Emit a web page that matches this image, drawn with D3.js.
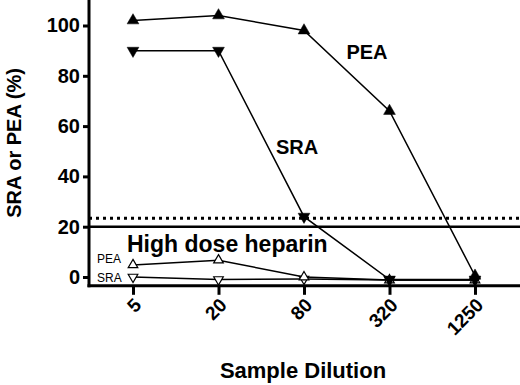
<!DOCTYPE html>
<html><head><meta charset="utf-8">
<script src="https://cdn.jsdelivr.net/npm/d3@7"></script>
<style>body{margin:0;background:#fff}svg{display:block}</style>
</head><body>
<script>
const dilutions = ["5", "20", "80", "320", "1250"];
const peaValues = [102, 104, 98, 66, 0.5];
const sraValues = [90, 90, 24, -1, -1];
const heparinPEA = [4.8, 6.7, 0, -1.2, -1.2];
const heparinSRA = [0, -1, -0.8, -1.2, -1.2];
const yTicks = [0, 20, 40, 60, 80, 100];
const cutoffSRA = 20;
const cutoffPEA = 23.4;

const W = 520, H = 385;
const svg = d3.select("body").append("svg").attr("width", W).attr("height", H);
const x = d3.scalePoint().domain(dilutions).range([133, 475]);
const y = d3.scaleLinear().domain([0, 100]).range([277, 25.5]);
const x0 = 89, yAxisBottom = y(-3.5);
const font = "'Liberation Sans', Arial, sans-serif";

// reference lines
svg.append("line").attr("x1", x0).attr("x2", W).attr("y1", y(cutoffPEA)).attr("y2", y(cutoffPEA))
  .attr("stroke", "#000").attr("stroke-width", 3).attr("stroke-dasharray", "3,4");
svg.append("line").attr("x1", x0).attr("x2", W).attr("y1", y(cutoffSRA)).attr("y2", y(cutoffSRA))
  .attr("stroke", "#000").attr("stroke-width", 2.5);

// axes
const yAxis = d3.axisLeft(y).tickValues(yTicks).tickSize(6).tickPadding(3);
const gy = svg.append("g").attr("transform", `translate(${x0},0)`).call(yAxis);
gy.select(".domain").remove();
gy.selectAll(".tick line").attr("stroke-width", 3);
gy.selectAll(".tick text").attr("font-family", font).attr("font-weight", "bold").attr("font-size", 20).attr("fill", "#000");
svg.append("line").attr("x1", x0).attr("x2", x0).attr("y1", 0).attr("y2", yAxisBottom + 1.5)
  .attr("stroke", "#000").attr("stroke-width", 3);
svg.append("line").attr("x1", x0 - 1.5).attr("x2", W).attr("y1", yAxisBottom).attr("y2", yAxisBottom)
  .attr("stroke", "#000").attr("stroke-width", 3);

const xAxis = d3.axisBottom(x).tickSize(9).tickFormat("");
const gx = svg.append("g").attr("transform", `translate(0,${yAxisBottom})`).call(xAxis);
gx.select(".domain").remove();
gx.selectAll(".tick line").attr("stroke-width", 3);
svg.selectAll(".xlab").data(dilutions).enter().append("text")
  .attr("transform", d => `translate(${x(d) + 6},${yAxisBottom + 17}) rotate(-45)`)
  .attr("text-anchor", "end").attr("dominant-baseline", "middle")
  .attr("font-family", font).attr("font-weight", "bold").attr("font-size", 19)
  .text(d => d);

// axis titles
svg.append("text").attr("transform", `translate(21,143) rotate(-90)`)
  .attr("text-anchor", "middle").attr("font-family", font).attr("font-weight", "bold").attr("font-size", 20)
  .text("SRA or PEA (%)");
svg.append("text").attr("x", 303).attr("y", 378)
  .attr("text-anchor", "middle").attr("font-family", font).attr("font-weight", "bold").attr("font-size", 22)
  .text("Sample Dilution");

// series
const line = d3.line().x((d, i) => x(dilutions[i])).y(d => y(d));
function series(vals, up, filled, sz) {
  svg.append("path").datum(vals).attr("d", line).attr("fill", "none").attr("stroke", "#000").attr("stroke-width", 1.5);
  svg.selectAll(null).data(vals).enter().append("path")
    .attr("d", d3.symbol(d3.symbolTriangle, sz)())
    .attr("transform", (d, i) => `translate(${x(dilutions[i])},${y(d)}) rotate(${up ? 0 : 180})`)
    .attr("fill", filled ? "#000" : "#fff").attr("stroke", "#000").attr("stroke-width", filled ? 0.5 : 1.2);
}
series(heparinSRA, false, false, 40);
series(heparinPEA, true, false, 40);
series(sraValues, false, true, 60);
series(peaValues, true, true, 60);

// labels
svg.append("text").attr("x", 367).attr("y", 59).attr("text-anchor", "middle")
  .attr("font-family", font).attr("font-weight", "bold").attr("font-size", 20).text("PEA");
svg.append("text").attr("x", 297).attr("y", 154).attr("text-anchor", "middle")
  .attr("font-family", font).attr("font-weight", "bold").attr("font-size", 20).text("SRA");
svg.append("text").attr("x", 127).attr("y", 252)
  .attr("font-family", font).attr("font-weight", "bold").attr("font-size", 23).text("High dose heparin");
svg.append("text").attr("x", 97).attr("y", 263)
  .attr("font-family", font).attr("font-size", 12).text("PEA");
svg.append("text").attr("x", 97).attr("y", 282)
  .attr("font-family", font).attr("font-size", 12).text("SRA");
</script>
</body></html>
